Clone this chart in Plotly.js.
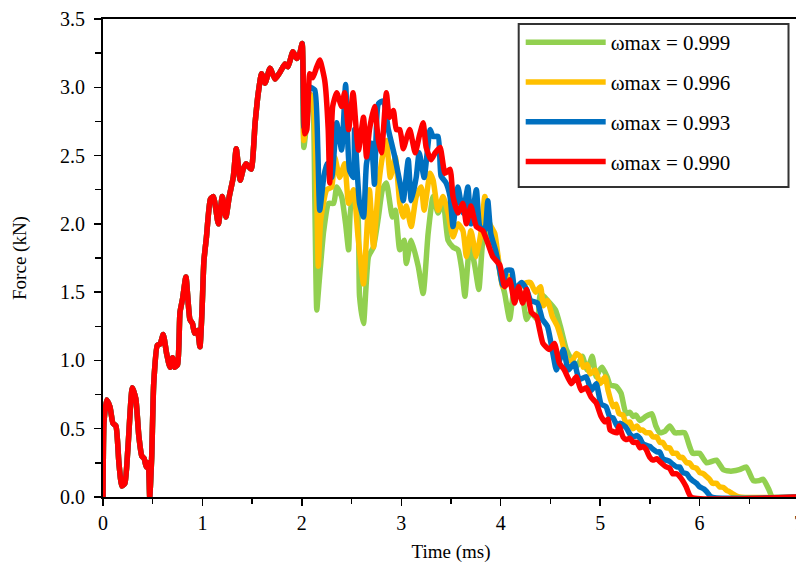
<!DOCTYPE html>
<html>
<head>
<meta charset="utf-8">
<script src="https://cdn.plot.ly/plotly-3.0.1.min.js"></script>
<style>
html,body{margin:0;padding:0;overflow:hidden;background:#fff;}
#chart{width:810px;height:563px;}
</style>
</head>
<body>
<div id="chart"></div>
<script>
// Shared part of the curve (all four series coincide up to ~2.0 ms)
var tCommon = [0, 0.01, 0.037, 0.07, 0.10, 0.13, 0.16, 0.19, 0.22, 0.25, 0.295, 0.33, 0.36, 0.39, 0.415, 0.435, 0.455, 0.47, 0.49, 0.51, 0.546, 0.575, 0.606, 0.64, 0.673, 0.70, 0.72, 0.75, 0.774, 0.80, 0.834, 0.874, 0.90, 0.92, 0.95, 0.975, 0.995, 1.015, 1.04, 1.08, 1.11, 1.16, 1.20, 1.236, 1.27, 1.31, 1.34, 1.38, 1.41, 1.44, 1.49, 1.53, 1.56, 1.595, 1.63, 1.68, 1.73, 1.78, 1.83, 1.86, 1.91, 1.95, 1.98, 2.003];
var fCommon = [0, 0.55, 0.71, 0.66, 0.54, 0.52, 0.25, 0.08, 0.10, 0.35, 0.80, 0.72, 0.45, 0.30, 0.28, 0.22, 0.25, 0.0, 0.30, 0.83, 1.11, 1.12, 1.19, 1.05, 0.95, 1.02, 0.95, 0.97, 1.35, 1.45, 1.61, 1.30, 1.27, 1.20, 1.22, 1.10, 1.35, 1.73, 1.90, 2.18, 2.20, 2.00, 2.20, 2.05, 2.20, 2.34, 2.55, 2.32, 2.40, 2.44, 2.40, 2.74, 2.95, 3.10, 3.03, 3.14, 3.06, 3.11, 3.17, 3.15, 3.26, 3.21, 3.25, 3.32];

// ωmax = 0.999 (green) after 2.0 ms
var tG = [2.02, 2.05, 2.08, 2.11, 2.13, 2.15, 2.17, 2.22, 2.27, 2.32, 2.35, 2.40, 2.44, 2.47, 2.50, 2.55, 2.58, 2.62, 2.67, 2.72, 2.77, 2.81, 2.85, 2.91, 2.94, 2.985, 3.03, 3.05, 3.10, 3.17, 3.22, 3.27, 3.32, 3.37, 3.42, 3.47, 3.52, 3.57, 3.61, 3.64, 3.69, 3.74, 3.78, 3.82, 3.86, 3.90, 3.95, 4.00, 4.04, 4.09, 4.14, 4.21, 4.26, 4.30, 4.37, 4.40, 4.47, 4.55, 4.60, 4.66, 4.72, 4.77, 4.82, 4.87, 4.92, 4.96, 4.995, 5.02, 5.07, 5.10, 5.16, 5.21, 5.26, 5.30, 5.33, 5.36, 5.40, 5.46, 5.52, 5.56, 5.60, 5.65, 5.70, 5.75, 5.79, 5.85, 5.90, 5.93, 6.00, 6.07, 6.12, 6.17, 6.24, 6.30, 6.33, 6.40, 6.47, 6.54, 6.60, 6.64, 6.70, 6.73, 7.0];
var fG = [2.56, 2.75, 2.93, 2.88, 2.20, 1.37, 1.54, 1.95, 2.15, 2.15, 2.27, 2.20, 2.00, 1.81, 2.15, 2.15, 1.47, 1.27, 1.76, 1.83, 2.05, 2.25, 2.30, 2.05, 2.10, 1.81, 1.88, 1.71, 1.88, 1.69, 1.49, 1.93, 2.20, 2.08, 2.17, 1.88, 1.83, 1.81, 1.66, 1.47, 1.86, 1.69, 1.52, 1.88, 1.98, 1.88, 1.83, 1.61, 1.49, 1.30, 1.52, 1.49, 1.30, 1.35, 1.30, 1.49, 1.44, 1.37, 1.25, 1.08, 1.00, 0.96, 1.03, 0.93, 1.03, 0.88, 0.93, 0.95, 0.88, 0.82, 0.81, 0.76, 0.61, 0.62, 0.59, 0.60, 0.56, 0.59, 0.61, 0.52, 0.47, 0.48, 0.52, 0.47, 0.47, 0.47, 0.37, 0.32, 0.32, 0.25, 0.26, 0.27, 0.20, 0.19, 0.19, 0.20, 0.22, 0.12, 0.12, 0.13, 0.05, 0.0, 0.0];

// ωmax = 0.996 (yellow) after 2.0 ms
var tY = [2.02, 2.05, 2.08, 2.11, 2.15, 2.165, 2.19, 2.25, 2.30, 2.33, 2.38, 2.43, 2.47, 2.52, 2.565, 2.62, 2.65, 2.68, 2.72, 2.77, 2.81, 2.85, 2.89, 2.94, 2.985, 3.02, 3.05, 3.10, 3.15, 3.20, 3.23, 3.29, 3.32, 3.37, 3.42, 3.47, 3.52, 3.57, 3.62, 3.655, 3.70, 3.755, 3.81, 3.84, 3.89, 3.94, 3.97, 4.02, 4.06, 4.11, 4.16, 4.21, 4.26, 4.30, 4.35, 4.40, 4.43, 4.47, 4.52, 4.57, 4.62, 4.67, 4.72, 4.76, 4.80, 4.83, 4.87, 4.90, 4.95, 5.00, 5.05, 5.08, 5.13, 5.16, 5.19, 5.23, 5.26, 5.30, 5.33, 5.37, 5.40, 5.43, 5.46, 5.50, 5.53, 5.57, 5.60, 5.63, 5.665, 5.70, 5.73, 5.77, 5.80, 5.83, 5.87, 5.90, 5.93, 5.97, 6.00, 6.04, 6.07, 6.10, 6.13, 6.17, 6.20, 6.24, 6.27, 6.30, 6.33, 6.40, 7.0];
var fY = [2.61, 2.80, 2.95, 2.93, 2.20, 1.69, 2.03, 2.25, 2.27, 2.49, 2.34, 2.44, 2.15, 2.25, 1.905, 1.56, 1.90, 2.25, 1.83, 2.27, 2.49, 2.61, 2.34, 2.49, 2.15, 2.05, 2.13, 1.98, 2.20, 2.27, 2.10, 2.37, 2.32, 2.10, 2.20, 2.08, 1.905, 2.00, 1.95, 1.76, 1.95, 1.76, 1.98, 2.20, 2.00, 1.93, 1.78, 1.54, 1.62, 1.60, 1.50, 1.55, 1.57, 1.57, 1.50, 1.54, 1.40, 1.44, 1.32, 1.25, 1.13, 1.00, 1.00, 1.05, 1.03, 0.95, 0.97, 0.90, 0.93, 0.83, 0.88, 0.78, 0.66, 0.68, 0.61, 0.60, 0.54, 0.55, 0.50, 0.52, 0.49, 0.49, 0.47, 0.47, 0.44, 0.44, 0.40, 0.40, 0.36, 0.36, 0.32, 0.32, 0.29, 0.29, 0.25, 0.25, 0.22, 0.21, 0.18, 0.17, 0.15, 0.13, 0.10, 0.10, 0.075, 0.07, 0.05, 0.04, 0.025, 0.0, 0.0];

// ωmax = 0.993 (blue) after 2.0 ms
var tB = [2.02, 2.05, 2.08, 2.13, 2.16, 2.18, 2.22, 2.25, 2.30, 2.35, 2.40, 2.44, 2.48, 2.52, 2.53, 2.58, 2.62, 2.65, 2.70, 2.73, 2.77, 2.82, 2.87, 2.935, 3.00, 3.02, 3.07, 3.10, 3.15, 3.18, 3.23, 3.29, 3.32, 3.37, 3.40, 3.45, 3.49, 3.52, 3.57, 3.62, 3.67, 3.70, 3.755, 3.79, 3.84, 3.87, 3.90, 3.95, 3.99, 4.02, 4.06, 4.11, 4.14, 4.21, 4.26, 4.30, 4.37, 4.42, 4.47, 4.53, 4.56, 4.63, 4.68, 4.74, 4.79, 4.86, 4.91, 4.96, 5.01, 5.06, 5.10, 5.13, 5.17, 5.20, 5.26, 5.30, 5.33, 5.37, 5.40, 5.43, 5.46, 5.50, 5.53, 5.57, 5.60, 5.63, 5.665, 5.70, 5.73, 5.77, 5.80, 5.83, 5.87, 5.90, 5.93, 5.97, 6.00, 6.04, 6.07, 6.12, 7.0];
var fB = [2.71, 2.85, 3.00, 2.98, 2.56, 2.10, 2.34, 2.44, 2.34, 2.74, 2.54, 3.02, 2.39, 2.34, 2.69, 2.15, 2.05, 2.44, 2.59, 2.29, 2.88, 2.90, 2.69, 2.49, 2.25, 2.17, 2.47, 2.17, 2.34, 2.52, 2.34, 2.69, 2.64, 2.64, 2.35, 2.30, 2.20, 1.98, 2.27, 2.08, 2.27, 2.00, 2.25, 1.98, 1.95, 2.17, 1.93, 1.80, 1.66, 1.55, 1.66, 1.66, 1.52, 1.57, 1.52, 1.44, 1.42, 1.30, 1.25, 1.03, 0.93, 1.08, 0.93, 0.98, 0.86, 0.88, 0.78, 0.83, 0.68, 0.66, 0.58, 0.58, 0.52, 0.54, 0.51, 0.46, 0.44, 0.45, 0.43, 0.39, 0.38, 0.37, 0.35, 0.33, 0.33, 0.28, 0.27, 0.26, 0.24, 0.22, 0.22, 0.18, 0.17, 0.14, 0.12, 0.10, 0.075, 0.06, 0.04, 0.0, 0.0];

// ωmax = 0.990 (red) after 2.0 ms
var tR = [2.03, 2.05, 2.08, 2.11, 2.15, 2.18, 2.23, 2.265, 2.28, 2.31, 2.35, 2.40, 2.43, 2.47, 2.515, 2.55, 2.57, 2.62, 2.65, 2.68, 2.73, 2.77, 2.80, 2.85, 2.88, 2.92, 2.95, 2.985, 3.02, 3.05, 3.085, 3.14, 3.18, 3.22, 3.25, 3.30, 3.34, 3.39, 3.44, 3.49, 3.52, 3.57, 3.62, 3.655, 3.70, 3.755, 3.82, 3.87, 3.92, 3.99, 4.04, 4.09, 4.14, 4.18, 4.22, 4.26, 4.31, 4.36, 4.425, 4.49, 4.54, 4.59, 4.64, 4.71, 4.76, 4.81, 4.86, 4.91, 4.96, 5.01, 5.05, 5.08, 5.10, 5.17, 5.19, 5.23, 5.26, 5.30, 5.33, 5.37, 5.40, 5.43, 5.46, 5.50, 5.53, 5.57, 5.60, 5.63, 5.665, 5.70, 5.73, 5.77, 5.80, 5.83, 5.865, 5.915, 7.0];
var fR = [2.66, 2.69, 3.10, 3.07, 3.15, 3.20, 3.05, 2.69, 2.30, 2.86, 2.96, 2.86, 2.96, 2.69, 2.96, 2.66, 2.54, 2.78, 2.49, 2.69, 2.86, 2.61, 2.52, 2.96, 2.78, 2.83, 2.69, 2.69, 2.55, 2.62, 2.69, 2.52, 2.64, 2.74, 2.56, 2.47, 2.52, 2.56, 2.37, 2.40, 2.20, 2.08, 2.15, 2.00, 2.13, 1.98, 1.95, 1.86, 1.76, 1.70, 1.54, 1.59, 1.42, 1.54, 1.42, 1.52, 1.35, 1.32, 1.125, 1.08, 1.125, 0.98, 0.93, 0.83, 0.88, 0.78, 0.80, 0.73, 0.69, 0.59, 0.55, 0.57, 0.49, 0.47, 0.52, 0.44, 0.42, 0.43, 0.40, 0.40, 0.36, 0.37, 0.35, 0.29, 0.27, 0.28, 0.26, 0.24, 0.22, 0.21, 0.17, 0.17, 0.15, 0.12, 0.075, 0.0, 0.0];

var seriesNames = ['ωmax = 0.999', 'ωmax = 0.996', 'ωmax = 0.993', 'ωmax = 0.990'];
var seriesColors = ['#92D050', '#FFC000', '#0070C0', '#FF0000'];
var seriesT = [tG, tY, tB, tR];
var seriesF = [fG, fY, fB, fR];

var xTickVals = [0, 1, 2, 3, 4, 5, 6, 7];
var xTickText = ['0', '1', '2', '3', '4', '5', '6', '7'];
var yTickVals = [0, 0.5, 1.0, 1.5, 2.0, 2.5, 3.0, 3.5];
var yTickText = ['0.0', '0.5', '1.0', '1.5', '2.0', '2.5', '3.0', '3.5'];

var traces = seriesNames.map(function (name, i) {
  return {
    type: 'scatter',
    mode: 'lines',
    name: name,
    legendgroup: 'g' + i,
    x: tCommon.concat(seriesT[i]),
    y: fCommon.concat(seriesF[i]),
    line: {color: seriesColors[i], width: 5.5, shape: 'spline', smoothing: 0.5},
    hoverinfo: 'skip'
  };
});

var W = 810, H = 563;
var L = 103, R = W - 799.5, T = 19, B = 66;
var plotW = W - L - R, plotH = H - T - B;
function px2x(p) { return (p - L) / plotW; }
function py2y(p) { return (H - B - p) / plotH; }

var layout = {
  width: W, height: H,
  margin: {l: L, r: R, t: T, b: B, pad: 0, autoexpand: false},
  paper_bgcolor: '#ffffff',
  plot_bgcolor: '#ffffff',
  font: {family: 'Liberation Serif, Times New Roman, serif', size: 19, color: '#000'},
  showlegend: true,
  xaxis: {
    range: [0, 7],
    tickvals: xTickVals, ticktext: xTickText,
    ticks: 'outside', ticklen: 7, tickwidth: 1.5, tickcolor: '#000',
    showline: true, linecolor: '#000', linewidth: 2, mirror: true,
    showgrid: false, zeroline: false,
    minor: {dtick: 0.5, ticks: 'outside', ticklen: 5, tickwidth: 1.5, tickcolor: '#000', showgrid: false},
    tickfont: {size: 20},
    title: {text: 'Time (ms)', font: {size: 19}, standoff: 19}
  },
  yaxis: {
    range: [0, 3.5],
    tickvals: yTickVals, ticktext: yTickText,
    ticks: 'outside', ticklen: 7, tickwidth: 1.5, tickcolor: '#000',
    showline: true, linecolor: '#000', linewidth: 2, mirror: true,
    showgrid: false, zeroline: false,
    minor: {dtick: 0.25, ticks: 'outside', ticklen: 6, tickwidth: 1.5, tickcolor: '#000', showgrid: false},
    tickfont: {size: 20},
    ticklabelstandoff: 5,
    title: {text: 'Force (kN)', font: {size: 19}, standoff: 28}
  },
  // legend frame
  shapes: [{
    type: 'rect', xref: 'paper', yref: 'paper', layer: 'below',
    x0: px2x(519), x1: px2x(789), y0: py2y(187), y1: py2y(24),
    line: {color: '#333', width: 2}, fillcolor: '#ffffff'
  }],
  legend: {
    x: px2x(521), y: py2y(22),
    xanchor: 'left', yanchor: 'top',
    bgcolor: 'rgba(0,0,0,0)', borderwidth: 0,
    font: {size: 21},
    traceorder: 'grouped', tracegroupgap: 9.5,
    itemwidth: 80
  }
};

Plotly.newPlot('chart', traces, layout, {displayModeBar: false, staticPlot: true});
</script>
</body>
</html>
